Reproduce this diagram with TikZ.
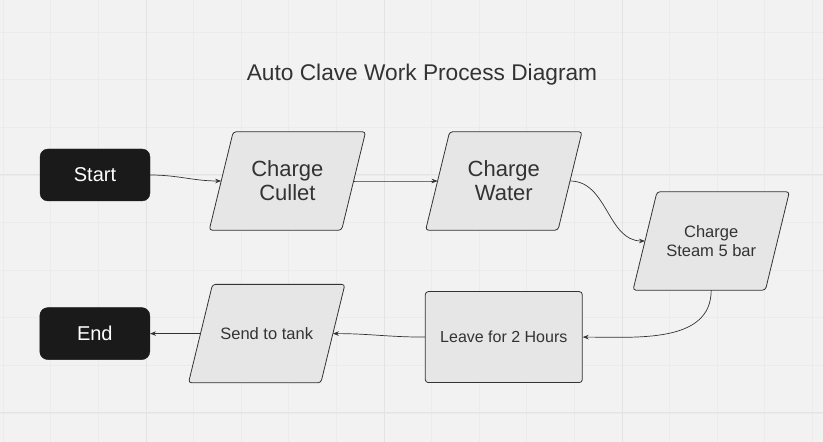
\documentclass[tikz,border=0pt]{standalone}
\usepackage{fontspec}
\setmainfont{Liberation Sans}
\usetikzlibrary{arrows.meta, positioning, backgrounds}

\definecolor{canvas}{HTML}{F2F2F2}
\definecolor{gridminor}{HTML}{EBEBEB}
\definecolor{gridmajor}{HTML}{E3E3E3}
\definecolor{boxfill}{HTML}{E6E6E6}
\definecolor{boxline}{HTML}{333333}
\definecolor{termfill}{HTML}{1A1A1A}
\definecolor{inktext}{HTML}{333333}

\begin{document}
\begin{tikzpicture}[
    x=1pt, y=1pt,
    terminal/.style={rectangle, draw=termfill, fill=termfill, text=white, minimum width=110pt, minimum height=52pt, rounded corners=8pt, font=\fontsize{20}{22}\selectfont},
    datain/.style={rectangle, text=inktext, minimum width=132pt, minimum height=98pt, align=center},
    slantbox/.style={draw=boxline, fill=boxfill, rounded corners=3pt, line width=0.8pt},
    process/.style={rectangle, draw=boxline, fill=boxfill, text=inktext, minimum width=157pt, minimum height=91pt, rounded corners=3pt, align=center, line width=0.8pt, font=\fontsize{16}{19}\selectfont},
    bigtext/.style={font=\fontsize{22}{24}\selectfont},
    smalltext/.style={font=\fontsize{16.5}{19}\selectfont},
    link/.style={-{Stealth[length=6pt, width=4.5pt]}, draw=boxline, line width=0.7pt}
]

% Canvas and grid
\useasboundingbox (0,0) rectangle (823,442);
\begin{scope}[on background layer]
    \fill[canvas] (0,0) rectangle (823,442);
    \foreach \i in {0,...,17} {
        \draw[gridminor, line width=0.8pt] (3.2+47.6*\i,0) -- (3.2+47.6*\i,442);
    }
    \foreach \j in {0,...,8} {
        \draw[gridminor, line width=0.8pt] (0,409.8-47.6*\j) -- (823,409.8-47.6*\j);
    }
    \foreach \i in {0,1,2} {
        \draw[gridmajor, line width=1pt] (146+238*\i,0) -- (146+238*\i,442);
    }
    \foreach \j in {267,29} {
        \draw[gridmajor, line width=1pt] (0,\j) -- (823,\j);
    }
\end{scope}

% Title
\node[text=inktext, font=\fontsize{22.7}{25}\selectfont] (title) at (422,367) {Auto Clave Work Process Diagram};

% Top row
\node[terminal] (start) at (95,267) {Start};
\node[datain, bigtext, right=71pt of start, yshift=-6pt] (cullet) {Charge\\Cullet};
\node[datain, bigtext, right=84pt of cullet] (water) {Charge\\Water};
\node[datain, smalltext, right=75pt of water, yshift=-60pt] (steam) {Charge\\Steam 5 bar};

% Bottom row
\node[process, below=61pt of water] (leave) {Leave for 2 Hours};
\node[datain, smalltext, left=92pt of leave, yshift=3.5pt] (send) {Send to tank};
\node[terminal, left=50.5pt of send] (finish) {End};

% Parallelogram outlines behind the texts
\begin{scope}[on background layer]
    \foreach \n in {cullet, water, steam, send} {
        \draw[slantbox] ([xshift=-12pt]\n.south west) -- ([xshift=-12pt]\n.south east)
            -- ([xshift=12pt]\n.north east) -- ([xshift=12pt]\n.north west) -- cycle;
    }
\end{scope}

% Connectors
\draw[link] (start.east) to[out=0, in=180] (cullet.west);
\draw[link] (cullet.east) to[out=0, in=180] (water.west);
\draw[link] (water.east) to[out=0, in=180] (steam.west);
\draw[link] (steam.south) to[out=-90, in=0] (leave.east);
\draw[link] (leave.west) to[out=180, in=0] (send.east);
\draw[link] (send.west) to[out=180, in=0] (finish.east);

\end{tikzpicture}
\end{document}
